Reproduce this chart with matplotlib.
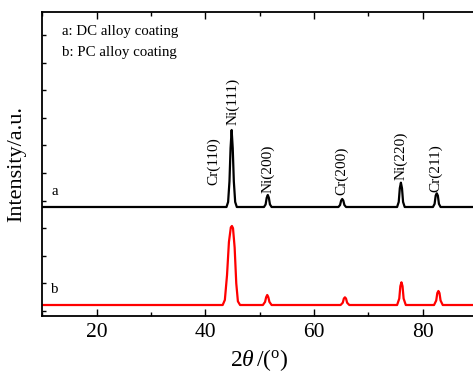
import matplotlib
matplotlib.use('Agg')
import matplotlib.pyplot as plt
from matplotlib.ticker import MultipleLocator, NullFormatter

plt.rcParams['font.family'] = ['Liberation Serif', 'DejaVu Serif']
plt.rcParams['mathtext.fontset'] = 'custom'
plt.rcParams['mathtext.rm'] = 'Liberation Serif'
plt.rcParams['mathtext.it'] = 'Liberation Serif:italic'

# a: DC alloy coating (offset pattern)
dc_x = [10, 43.9, 44.2, 44.45, 44.65, 44.85, 45.05, 45.25, 45.5, 45.8,
        50.8, 51.1, 51.3, 51.5, 51.7, 51.9, 52.2,
        64.5, 64.8, 65.0, 65.2, 65.4, 65.6, 65.9,
        75.3, 75.6, 75.8, 76.0, 76.2, 76.4, 76.7,
        81.9, 82.2, 82.4, 82.6, 82.8, 83.0, 83.3, 90]
dc_y = [3768, 3768, 3950, 4700, 5900, 6558, 5900, 4700, 3950, 3768,
        3768, 3860, 4100, 4203, 4100, 3860, 3768,
        3768, 3840, 4000, 4058, 4000, 3840, 3768,
        3768, 3950, 4450, 4649, 4450, 3950, 3768,
        3768, 3880, 4180, 4264, 4180, 3880, 3768, 3768]

# b: PC alloy coating
pc_x = [10, 43.2, 43.6, 44.0, 44.35, 44.7, 44.9, 45.1, 45.4, 45.7, 46.0, 46.4,
        50.6, 51.0, 51.2, 51.4, 51.6, 51.8, 52.2,
        64.9, 65.3, 65.5, 65.7, 65.9, 66.1, 66.5,
        75.3, 75.7, 75.9, 76.1, 76.3, 76.5, 76.9,
        82.1, 82.5, 82.7, 82.9, 83.1, 83.3, 83.7, 90]
pc_y = [217, 217, 400, 1300, 2500, 3030, 3080, 3000, 2300, 1000, 350, 217,
        217, 330, 500, 580, 500, 330, 217,
        217, 300, 450, 496, 450, 300, 217,
        217, 450, 900, 1040, 900, 450, 217,
        217, 380, 650, 725, 650, 380, 217, 217]

# peak labels
peak_names = ['Cr(110)', 'Ni(111)', 'Ni(200)', 'Cr(200)', 'Ni(220)', 'Cr(211)']
peak_x = [41.6, 45.1, 51.45, 65.07, 76.0, 82.46]
peak_y = [4565, 6739, 4275, 4203, 4746, 4312]

fig = plt.figure(figsize=(4.73, 3.76), dpi=100)
ax = fig.add_axes([0.0894, 0.1596, 0.919, 0.8085])

ax.plot(dc_x, dc_y, color='black', lw=1.6)
ax.plot(pc_x, pc_y, color='red', lw=1.6)

for name, px, py in zip(peak_names, peak_x, peak_y):
    ax.text(px, py, name, rotation=90, ha='center', va='bottom', fontsize=11)

ax.text(13.6, 10109, 'a: DC alloy coating', fontsize=10.7, va='center')
ax.text(13.6, 9348, 'b: PC alloy coating', fontsize=10.7, va='center')
ax.text(12.3, 4312, 'a', fontsize=10.7, va='center', ha='center')
ax.text(12.3, 761, 'b', fontsize=10.7, va='center', ha='center')

ax.set_xlim(10, 90)
ax.set_ylim(-181, 10833)
ax.xaxis.set_major_locator(MultipleLocator(20))
ax.xaxis.set_minor_locator(MultipleLocator(10))
ax.yaxis.set_major_locator(MultipleLocator(1000))
ax.yaxis.set_major_formatter(NullFormatter())
ax.tick_params(axis='x', which='major', direction='in', length=5, width=1,
               labelsize=15.5, top=True, pad=5)
ax.tick_params(axis='x', which='minor', direction='in', length=3, width=1, top=True)
ax.tick_params(axis='y', which='major', direction='in', length=3, width=1)
for s in ax.spines.values():
    s.set_linewidth(1.3)

ax.set_xlabel(r'$2\theta\,/(^{\rm o})$', fontsize=17, labelpad=4)
ax.set_ylabel('Intensity/a.u.', fontsize=16, labelpad=8)

fig.savefig('out.png', dpi=100)
